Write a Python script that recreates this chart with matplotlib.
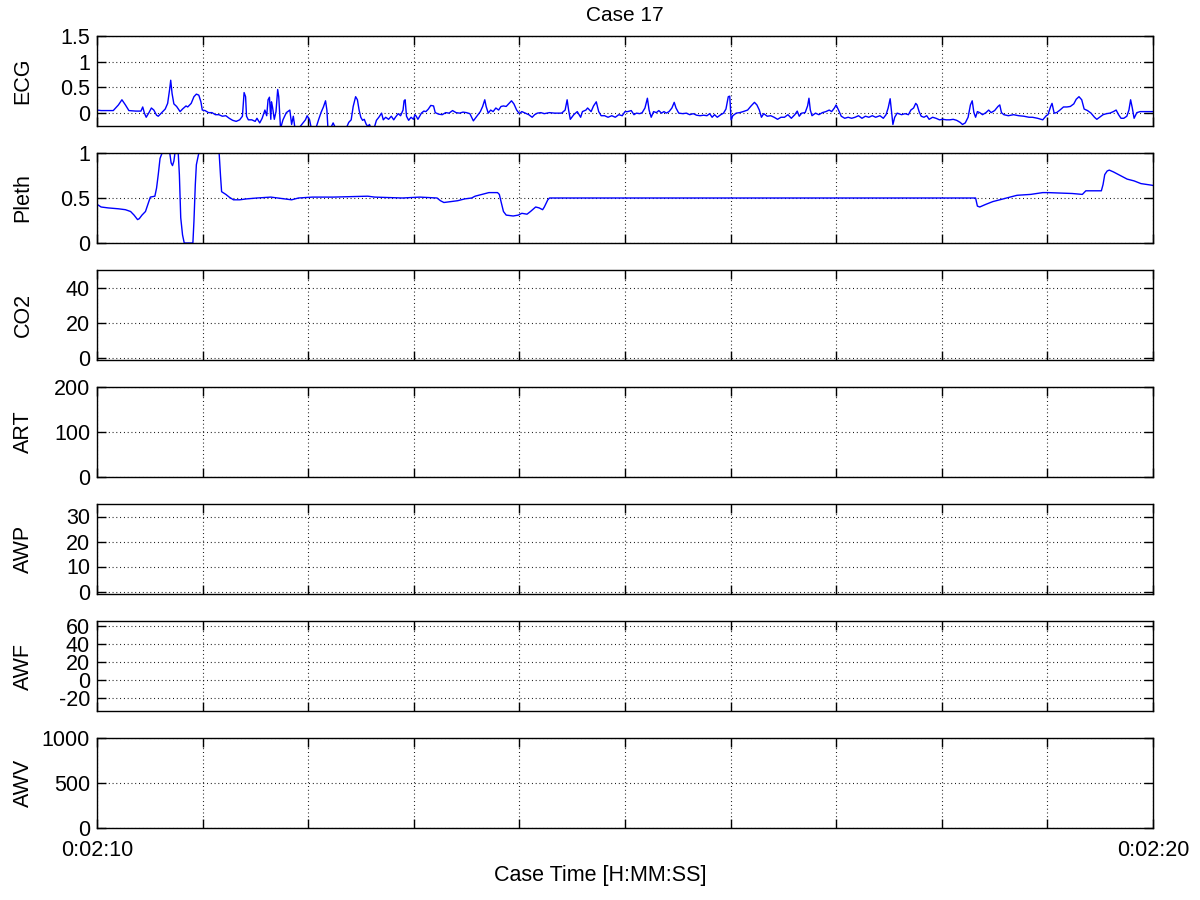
import matplotlib
matplotlib.use('Agg')
import matplotlib.pyplot as plt
from matplotlib.ticker import FormatStrFormatter
import numpy as np

plt.rcParams['font.family'] = ['Liberation Sans', 'DejaVu Sans']
plt.rcParams['font.size'] = 15.5

# time in seconds after 0:02:10
ecgT = [0.000, 0.039, 0.089, 0.154, 0.203, 0.236, 0.269, 0.302, 0.367, 0.416, 0.433, 0.449, 0.466, 0.492, 0.515,
        0.538, 0.564, 0.580, 0.613, 0.646, 0.669, 0.689, 0.698, 0.711, 0.728, 0.754, 0.787, 0.810, 0.843, 0.859,
        0.892, 0.918, 0.941, 0.964, 0.984, 0.997, 1.023, 1.056, 1.089, 1.121, 1.154, 1.187, 1.220, 1.252, 1.285,
        1.318, 1.351, 1.377, 1.393, 1.407, 1.416, 1.433, 1.466, 1.498, 1.515, 1.541, 1.564, 1.590, 1.607, 1.620,
        1.633, 1.646, 1.652, 1.662, 1.679, 1.695, 1.711, 1.721, 1.738, 1.761, 1.793, 1.826, 1.843, 1.859, 1.875,
        1.908, 1.974, 1.990, 2.013, 2.030, 2.072, 2.098, 2.121, 2.144, 2.164, 2.177, 2.187, 2.220, 2.236, 2.252,
        2.302, 2.367, 2.384, 2.407, 2.426, 2.449, 2.466, 2.482, 2.498, 2.515, 2.531, 2.548, 2.564, 2.580, 2.597,
        2.623, 2.646, 2.669, 2.695, 2.711, 2.734, 2.761, 2.787, 2.810, 2.826, 2.852, 2.875, 2.898, 2.908, 2.918,
        2.931, 2.951, 2.974, 2.997, 3.010, 3.023, 3.039, 3.072, 3.095, 3.115, 3.138, 3.161, 3.187, 3.203, 3.236,
        3.269, 3.302, 3.334, 3.367, 3.400, 3.433, 3.466, 3.498, 3.531, 3.564, 3.597, 3.630, 3.652, 3.672, 3.685,
        3.705, 3.728, 3.751, 3.777, 3.803, 3.826, 3.849, 3.875, 3.902, 3.925, 3.948, 3.974, 4.000, 4.023, 4.056,
        4.089, 4.121, 4.144, 4.170, 4.203, 4.236, 4.285, 4.334, 4.400, 4.433, 4.452, 4.466, 4.482, 4.515, 4.548,
        4.580, 4.597, 4.630, 4.646, 4.679, 4.702, 4.728, 4.751, 4.774, 4.807, 4.839, 4.875, 4.908, 4.941, 4.974,
        5.000, 5.026, 5.059, 5.085, 5.108, 5.140, 5.163, 5.189, 5.212, 5.228, 5.248, 5.271, 5.297, 5.320, 5.346,
        5.369, 5.391, 5.417, 5.444, 5.466, 5.483, 5.509, 5.548, 5.581, 5.613, 5.646, 5.678, 5.711, 5.744, 5.776,
        5.802, 5.825, 5.848, 5.874, 5.907, 5.933, 5.956, 5.978, 5.992, 6.005, 6.021, 6.053, 6.086, 6.119, 6.161,
        6.194, 6.226, 6.249, 6.272, 6.292, 6.314, 6.347, 6.380, 6.412, 6.445, 6.477, 6.510, 6.543, 6.575, 6.608,
        6.631, 6.650, 6.673, 6.706, 6.729, 6.742, 6.755, 6.771, 6.804, 6.836, 6.869, 6.902, 6.934, 6.957, 6.983,
        6.999, 7.022, 7.048, 7.081, 7.113, 7.146, 7.179, 7.211, 7.244, 7.277, 7.309, 7.342, 7.374, 7.414, 7.446,
        7.472, 7.492, 7.511, 7.524, 7.537, 7.554, 7.577, 7.619, 7.652, 7.684, 7.707, 7.733, 7.753, 7.766, 7.785,
        7.805, 7.831, 7.857, 7.880, 7.913, 7.945, 7.978, 8.010, 8.043, 8.076, 8.108, 8.141, 8.174, 8.196, 8.222,
        8.249, 8.271, 8.288, 8.304, 8.320, 8.337, 8.359, 8.386, 8.418, 8.444, 8.467, 8.500, 8.532, 8.549, 8.565,
        8.588, 8.630, 8.679, 8.728, 8.777, 8.826, 8.858, 8.907, 8.956, 8.989, 9.005, 9.031, 9.044, 9.064, 9.087,
        9.119, 9.152, 9.185, 9.217, 9.250, 9.273, 9.299, 9.325, 9.348, 9.380, 9.413, 9.446, 9.468, 9.494, 9.527,
        9.560, 9.592, 9.625, 9.651, 9.674, 9.697, 9.723, 9.752, 9.772, 9.788, 9.804, 9.821, 9.847, 9.879, 9.918,
        9.967, 10.000]
ecgV = [0.06, 0.05, 0.05, 0.05, 0.16, 0.26, 0.16, 0.05, 0.04, 0.04, 0.12, 0.00, -0.08, 0.01, 0.10,
        0.06, -0.04, -0.06, 0.01, 0.08, 0.19, 0.48, 0.64, 0.38, 0.18, 0.13, 0.03, 0.08, 0.14, 0.12,
        0.19, 0.32, 0.37, 0.35, 0.22, 0.06, 0.05, 0.01, 0.01, -0.03, -0.03, -0.06, -0.05, -0.10, -0.14,
        -0.16, -0.13, -0.06, 0.40, 0.32, -0.06, -0.13, -0.13, -0.16, -0.10, -0.19, -0.10, 0.06, -0.05, 0.26,
        0.31, -0.12, 0.22, 0.12, -0.12, 0.03, 0.46, 0.32, -0.30, -0.13, 0.01, 0.06, -0.22, -0.06, -0.30,
        -0.30, -0.13, -0.05, -0.13, -0.30, -0.30, -0.13, 0.01, 0.12, 0.24, 0.06, -0.30, -0.26, -0.19, -0.26,
        -0.30, -0.26, -0.18, -0.13, 0.13, 0.32, 0.26, 0.06, -0.08, -0.14, -0.12, -0.21, -0.26, -0.22, -0.30,
        -0.30, -0.14, -0.08, 0.00, -0.13, -0.08, -0.12, -0.06, -0.13, -0.08, -0.01, -0.05, 0.06, 0.24, 0.26,
        -0.06, -0.14, -0.08, -0.12, -0.03, -0.06, -0.12, 0.00, 0.04, 0.03, 0.08, 0.15, 0.14, 0.01, -0.02,
        -0.03, 0.01, 0.00, 0.05, 0.01, 0.00, 0.02, 0.01, -0.01, -0.15, -0.06, 0.03, 0.13, 0.26, 0.13,
        0.00, 0.06, 0.03, 0.10, 0.06, 0.13, 0.14, 0.13, 0.19, 0.24, 0.18, 0.06, -0.01, 0.03, 0.00,
        -0.03, -0.08, -0.03, 0.00, 0.01, -0.01, 0.01, 0.00, 0.00, 0.06, 0.26, 0.06, -0.12, -0.03, 0.03,
        -0.08, 0.03, 0.06, 0.10, 0.03, 0.14, 0.22, 0.03, -0.05, -0.05, -0.08, -0.05, -0.08, -0.03, -0.05,
        0.03, 0.03, 0.05, -0.03, 0.00, -0.01, 0.01, 0.10, 0.29, 0.06, -0.08, 0.03, 0.01, 0.05, 0.00,
        0.03, 0.00, 0.03, 0.10, 0.21, 0.10, 0.00, -0.01, 0.00, -0.03, -0.01, -0.04, -0.05, -0.04, -0.05,
        -0.01, -0.08, -0.03, -0.08, -0.03, 0.00, 0.08, 0.32, 0.33, -0.13, -0.05, 0.00, 0.01, 0.03, 0.06,
        0.14, 0.21, 0.16, 0.06, -0.08, -0.01, -0.06, -0.05, -0.08, -0.12, -0.08, -0.08, -0.03, -0.10, -0.03,
        0.04, -0.06, 0.00, 0.01, 0.14, 0.29, 0.06, -0.05, 0.00, -0.03, 0.01, 0.03, 0.06, 0.03, 0.10,
        0.16, 0.06, -0.06, -0.10, -0.08, -0.10, -0.08, -0.05, -0.10, -0.06, -0.08, -0.05, -0.08, -0.05, -0.10,
        -0.03, 0.10, 0.28, 0.03, -0.22, -0.08, 0.00, -0.03, -0.01, -0.03, 0.06, 0.10, 0.19, 0.16, 0.03,
        -0.06, -0.08, -0.05, -0.12, -0.08, -0.10, -0.13, -0.12, -0.13, -0.13, -0.12, -0.14, -0.18, -0.22, -0.19,
        -0.08, 0.16, 0.24, 0.01, -0.08, 0.03, 0.01, -0.03, 0.01, 0.06, 0.01, 0.05, 0.13, 0.16, 0.01,
        -0.03, -0.05, -0.03, -0.05, -0.06, -0.08, -0.08, -0.10, -0.13, -0.05, -0.03, 0.13, 0.19, 0.00, 0.01,
        0.06, 0.12, 0.12, 0.13, 0.18, 0.27, 0.32, 0.26, 0.08, 0.05, 0.00, -0.08, -0.12, -0.08, -0.03,
        -0.01, 0.00, 0.03, 0.06, -0.03, -0.10, -0.10, -0.06, 0.06, 0.26, 0.10, -0.10, 0.01, 0.03, 0.03,
        0.03, 0.03]

plethT = [0.000, 0.039, 0.105, 0.203, 0.269, 0.318, 0.351, 0.384, 0.400, 0.426, 0.459, 0.482, 0.505, 0.548,
          0.564, 0.580, 0.597, 0.613, 0.630, 0.669, 0.689, 0.702, 0.715, 0.728, 0.744, 0.767, 0.780, 0.793,
          0.810, 0.826, 0.875, 0.908, 0.918, 0.931, 0.941, 0.957, 0.974, 0.990, 1.154, 1.170, 1.180, 1.220,
          1.252, 1.292, 1.351, 1.416, 1.515, 1.646, 1.711, 1.777, 1.843, 1.908, 2.039, 2.236, 2.564, 2.630,
          2.892, 3.056, 3.220, 3.252, 3.285, 3.351, 3.416, 3.482, 3.548, 3.580, 3.646, 3.711, 3.793, 3.810,
          3.826, 3.849, 3.875, 3.941, 3.990, 4.023, 4.072, 4.105, 4.154, 4.187, 4.220, 4.236, 4.269, 4.285,
          8.320, 8.337, 8.359, 8.418, 8.483, 8.549, 8.646, 8.712, 8.842, 8.956, 9.005, 9.234, 9.331, 9.364,
          9.511, 9.527, 9.543, 9.566, 9.586, 9.625, 9.690, 9.755, 9.821, 9.886, 10.000]
plethV = [0.43, 0.40, 0.39, 0.38, 0.37, 0.35, 0.31, 0.26, 0.27, 0.31, 0.35, 0.43, 0.51, 0.52,
          0.61, 0.76, 0.94, 0.99, 1.05, 1.05, 1.00, 0.89, 0.86, 0.91, 1.05, 1.05, 0.76, 0.28,
          0.09, 0.00, 0.00, 0.00, 0.24, 0.65, 0.87, 0.96, 1.05, 1.05, 1.05, 0.74, 0.57, 0.54,
          0.51, 0.48, 0.48, 0.49, 0.50, 0.51, 0.50, 0.49, 0.48, 0.50, 0.51, 0.51, 0.52, 0.51,
          0.50, 0.51, 0.50, 0.47, 0.45, 0.46, 0.47, 0.49, 0.50, 0.52, 0.54, 0.56, 0.56, 0.54,
          0.46, 0.35, 0.31, 0.30, 0.31, 0.33, 0.32, 0.35, 0.40, 0.39, 0.37, 0.40, 0.48, 0.50,
          0.50, 0.41, 0.40, 0.43, 0.46, 0.48, 0.51, 0.53, 0.54, 0.56, 0.56, 0.55, 0.54, 0.58,
          0.58, 0.65, 0.76, 0.80, 0.81, 0.79, 0.75, 0.71, 0.69, 0.66, 0.64]

names = ['ECG', 'Pleth', 'CO2', 'ART', 'AWP', 'AWF', 'AWV']
ylims = [(-0.25, 1.5), (0, 1), (-1, 50), (0, 200), (-1, 35), (-35, 65), (0, 1000)]
yticks = [[0, 0.5, 1, 1.5], [0, 0.5, 1], [0, 20, 40], [0, 100, 200],
          [0, 10, 20, 30], [-20, 0, 20, 40, 60], [0, 500, 1000]]
tStart = 130
tEnd = 140
xtickLabels = ['0:02:10', '0:02:20']

fig = plt.figure(figsize=(12, 9), dpi=100)
axs = []
for i in range(7):
    bottom = 1 - (126 + 117 * i) / 900.
    ax = fig.add_axes([97 / 1200., bottom, 1056 / 1200., 90 / 900.])
    axs.append(ax)
    ax.set_xlim(tStart, tEnd)
    ax.set_ylim(ylims[i])
    ax.set_yticks(yticks[i])
    ax.yaxis.set_major_formatter(FormatStrFormatter('%g'))
    ax.set_xticks(np.arange(tStart, tEnd + 1))
    ax.set_xticklabels([])
    ax.tick_params(direction='in', length=6.5, width=1, top=True, right=True, pad=5)
    ax.grid(True, color='k', linestyle=(0, (0.8, 2.6)), linewidth=0.8)
    for s in ax.spines.values():
        s.set_linewidth(1)
    ax.set_ylabel(names[i])
    ax.yaxis.set_label_coords(-0.06, 0.5)

axs[0].plot(tStart + np.array(ecgT), ecgV, color='b', lw=1)
axs[1].plot(tStart + np.array(plethT), plethV, color='b', lw=1)

axs[0].set_title('Case 17', fontsize=15, pad=11)
last = axs[-1]
labs = [''] * (tEnd - tStart + 1)
labs[0] = xtickLabels[0]
labs[-1] = xtickLabels[1]
last.set_xticklabels(labs)
last.tick_params(axis='x', pad=9)
fig.text(0.5, 1 - 881 / 900., 'Case Time [H:MM:SS]', ha='center', va='baseline')

fig.savefig('out.png', dpi=100)
